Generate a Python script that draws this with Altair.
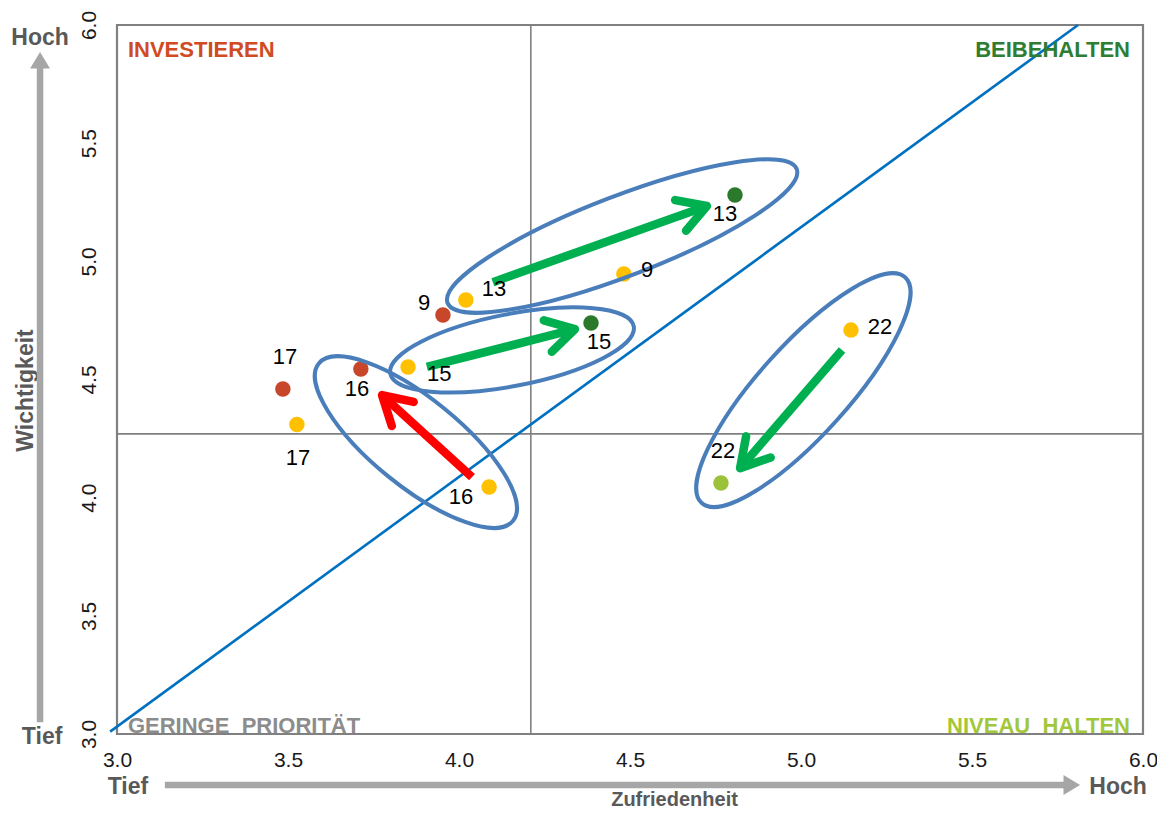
import math
import altair as alt
import pandas as pd

# ---------------- data ----------------
pt_group = ["Investieren", "Vorjahr", "Investieren", "Vorjahr", "Investieren", "Vorjahr",
            "Vorjahr", "Beibehalten", "Vorjahr", "Beibehalten", "Vorjahr", "Niveau halten"]
pt_x = [3.485, 3.526, 3.713, 4.088, 3.953, 4.020, 3.851, 4.386, 4.482, 4.807, 5.146, 4.766]
pt_y = [4.460, 4.310, 4.544, 4.045, 4.773, 4.836, 4.553, 4.739, 4.946, 5.281, 4.709, 4.062]

lab_text = ["17", "17", "16", "16", "9", "13", "15", "15", "9", "13", "22", "22"]
lab_x = [3.491, 3.529, 3.702, 4.006, 3.898, 4.102, 3.942, 4.409, 4.550, 4.778, 5.231, 4.772]
lab_y = [4.595, 4.168, 4.460, 4.003, 4.823, 4.883, 4.523, 4.658, 4.963, 5.200, 4.722, 4.197]

arr_x = [4.099, 3.906, 4.038, 5.120]
arr_y = [4.912, 4.553, 4.087, 4.625]
arr_x2 = [4.725, 4.339, 3.775, 4.822]
arr_y2 = [5.234, 4.713, 4.434, 4.125]
arr_kind = ["besser", "besser", "schlechter", "besser"]

ell_x = [4.477, 4.155, 3.874, 5.007]
ell_y = [5.107, 4.625, 4.235, 4.455]

diag_x = [2.98, 5.81]
diag_y = [3.01, 6.00]

quad_x = [4.21]
quad_y = [4.27]

ticks = [3.0, 3.5, 4.0, 4.5, 5.0, 5.5, 6.0]

NB = "\u00a0"
quad_text_l = ["INVESTIEREN", "GERINGE" + NB + NB + "PRIORITÄT"]
quad_xl = [3.032, 3.032]
quad_yl = [5.894, 3.033]
quad_kind_l = ["Investieren", "Geringe Priorität"]
quad_text_r = ["BEIBEHALTEN", "NIVEAU" + NB + NB + "HALTEN"]
quad_xr = [5.962, 5.962]
quad_yr = [5.894, 3.033]
quad_kind_r = ["Beibehalten", "Niveau halten"]

# ---------------- layout / styles ----------------
W, H = 1026, 709
FONT = "Liberation Sans"
PX_X, PX_Y = W / 3.0, H / 3.0

POINT_COL = {"Vorjahr": "#FFC000", "Investieren": "#C8472B",
             "Beibehalten": "#2B7A2B", "Niveau halten": "#9BC23A"}
QUAD_COL = {"Investieren": "#D04A22", "Geringe Priorität": "#8C8C8C",
            "Beibehalten": "#2E7D32", "Niveau halten": "#A2C73A"}
ARROW_COL = {"besser": "#00B050", "schlechter": "#FF0000"}

ell_a_px = [187, 124, 125, 152]
ell_b_px = [40, 36, 44, 45]
ell_angle = [339, 349, 39, 312]

xs = alt.Scale(domain=[3, 6], nice=False, zero=False)
ys = alt.Scale(domain=[3, 6], nice=False, zero=False)

x_axis = alt.Axis(values=ticks, format=".1f", labelFontSize=21, labelFont=FONT,
                  labelColor="#1a1a1a", labelPadding=15, labelBaseline="top",
                  ticks=False, domain=False, grid=False, labelOverlap=False,
                  labelFlush=False, labelBound=False,
                  title="Zufriedenheit", titleFont=FONT, titleFontSize=20,
                  titleFontWeight="bold", titleColor="#595959",
                  titleX=557, titleY=65, titleAlign="center", titleBaseline="middle")
y_axis = alt.Axis(values=ticks, format=".1f", labelFontSize=21, labelFont=FONT,
                  labelColor="#1a1a1a", labelAngle=270, labelAlign="center",
                  labelBaseline="bottom", labelPadding=18,
                  ticks=False, domain=False, grid=False, labelOverlap=False,
                  labelFlush=False, labelBound=False,
                  title="Wichtigkeit", titleFont=FONT, titleFontSize=23,
                  titleFontWeight="bold", titleColor="#595959", titleAngle=270,
                  titleX=-92, titleY=365, titleAlign="center", titleBaseline="middle")


def X(f):
    return alt.X(f, type="quantitative", scale=xs, axis=x_axis)


def Y(f):
    return alt.Y(f, type="quantitative", scale=ys, axis=y_axis)


def ellipse_path(r):
    k = 0.5523
    c = k * r
    return (f"M 1 0 C 1 {c:.4f} {k} {r:.4f} 0 {r:.4f} "
            f"C {-k} {r:.4f} -1 {c:.4f} -1 0 "
            f"C -1 {-c:.4f} {-k} {-r:.4f} 0 {-r:.4f} "
            f"C {k} {-r:.4f} 1 {-c:.4f} 1 0 Z")


layers = []

# quadrant lines
layers.append(alt.Chart(pd.DataFrame({"qx": quad_x})).mark_rule(
    color="#808080", strokeWidth=1.6).encode(x=X("qx")))
layers.append(alt.Chart(pd.DataFrame({"qy": quad_y})).mark_rule(
    color="#808080", strokeWidth=1.6).encode(y=Y("qy")))

# diagonal
layers.append(alt.Chart(pd.DataFrame({"x": diag_x, "y": diag_y})).mark_line(
    color="#0070C0", strokeWidth=2.6, clip=False).encode(x=X("x"), y=Y("y")))

# quadrant texts
dl = pd.DataFrame({"t": quad_text_l, "x": quad_xl, "y": quad_yl,
                   "c": [QUAD_COL[k] for k in quad_kind_l]})
layers.append(alt.Chart(dl).mark_text(align="left", baseline="middle", font=FONT,
                                      fontSize=22, fontWeight="bold").encode(
    x=X("x"), y=Y("y"), text="t:N", color=alt.Color("c:N", scale=None)))
dr = pd.DataFrame({"t": quad_text_r, "x": quad_xr, "y": quad_yr,
                   "c": [QUAD_COL[k] for k in quad_kind_r]})
layers.append(alt.Chart(dr).mark_text(align="right", baseline="middle", font=FONT,
                                      fontSize=22, fontWeight="bold").encode(
    x=X("x"), y=Y("y"), text="t:N", color=alt.Color("c:N", scale=None)))

# arrows (shafts + heads)
da = pd.DataFrame({"x": arr_x, "y": arr_y, "x2": arr_x2, "y2": arr_y2,
                   "c": [ARROW_COL[k] for k in arr_kind]})
da["ang"] = [math.degrees(math.atan2(-(b2 - b) * PX_Y, (a2 - a) * PX_X)) % 360
             for a, b, a2, b2 in zip(arr_x, arr_y, arr_x2, arr_y2)]
layers.append(alt.Chart(da).mark_rule(strokeWidth=8.5).encode(
    x=X("x"), y=Y("y"), x2="x2:Q", y2="y2:Q", color=alt.Color("c:N", scale=None)))
layers.append(alt.Chart(da).mark_point(
    shape="M -1 -0.58 L 0 0 L -1 0.58", filled=False, size=3136, strokeWidth=8.5,
    strokeJoin="round", strokeCap="round", opacity=1).encode(
    x=X("x2"), y=Y("y2"), angle=alt.Angle("ang:Q", scale=None),
    stroke=alt.Stroke("c:N", scale=None)))

# points
dp = pd.DataFrame({"x": pt_x, "y": pt_y, "c": [POINT_COL[g] for g in pt_group]})
layers.append(alt.Chart(dp).mark_circle(size=240, opacity=1).encode(
    x=X("x"), y=Y("y"), color=alt.Color("c:N", scale=None)))

# ellipses
for ex, ey, a, b, ang in zip(ell_x, ell_y, ell_a_px, ell_b_px, ell_angle):
    de = pd.DataFrame({"x": [ex], "y": [ey]})
    layers.append(alt.Chart(de).mark_point(
        shape=ellipse_path(b / a), filled=False, size=(2 * a) ** 2, strokeWidth=4,
        color="#4A7EBB", opacity=1, angle=ang).encode(x=X("x"), y=Y("y")))

# point labels
dlab = pd.DataFrame({"t": lab_text, "x": lab_x, "y": lab_y})
layers.append(alt.Chart(dlab).mark_text(font=FONT, fontSize=22, color="#000000",
                                        baseline="middle").encode(
    x=X("x"), y=Y("y"), text="t:N"))

# Hoch / Tief and grey axis arrows
hx = [2.775, 2.781, 3.032, 5.927]
hy = [5.945, 2.987, 2.776, 2.776]
ht = ["Hoch", "Tief", "Tief", "Hoch"]
layers.append(alt.Chart(pd.DataFrame({"x": hx, "y": hy, "t": ht})).mark_text(
    font=FONT, fontSize=23, fontWeight="bold", color="#595959", baseline="middle").encode(
    x=X("x"), y=Y("y"), text="t:N"))

gx = [2.775, 3.140]
gy = [3.050, 2.784]
gx2 = [2.775, 5.780]
gy2 = [5.830, 2.784]
layers.append(alt.Chart(pd.DataFrame({"x": gx, "y": gy, "x2": gx2, "y2": gy2})).mark_rule(
    color="#A6A6A6", strokeWidth=6.5).encode(x=X("x"), y=Y("y"), x2="x2:Q", y2="y2:Q"))
hdx = [2.775, 5.816]
hdy = [5.886, 2.784]
hda = [270, 0]
layers.append(alt.Chart(pd.DataFrame({"x": hdx, "y": hdy, "a": hda})).mark_point(
    shape="M 0 0 L -1 -0.6 L -1 0.6 Z", filled=True, size=1100, color="#A6A6A6",
    opacity=1).encode(x=X("x"), y=Y("y"), angle=alt.Angle("a:Q", scale=None)))

chart = alt.layer(*layers).properties(
    width=W, height=H,
    autosize=alt.AutoSizeParams(type="none"),
    padding={"left": 109, "top": 17, "right": 14, "bottom": 74},
    background="white",
).configure_view(stroke="#808080", strokeWidth=2.2)

chart.save("out.html", embed_options={"renderer": "svg", "actions": False})
